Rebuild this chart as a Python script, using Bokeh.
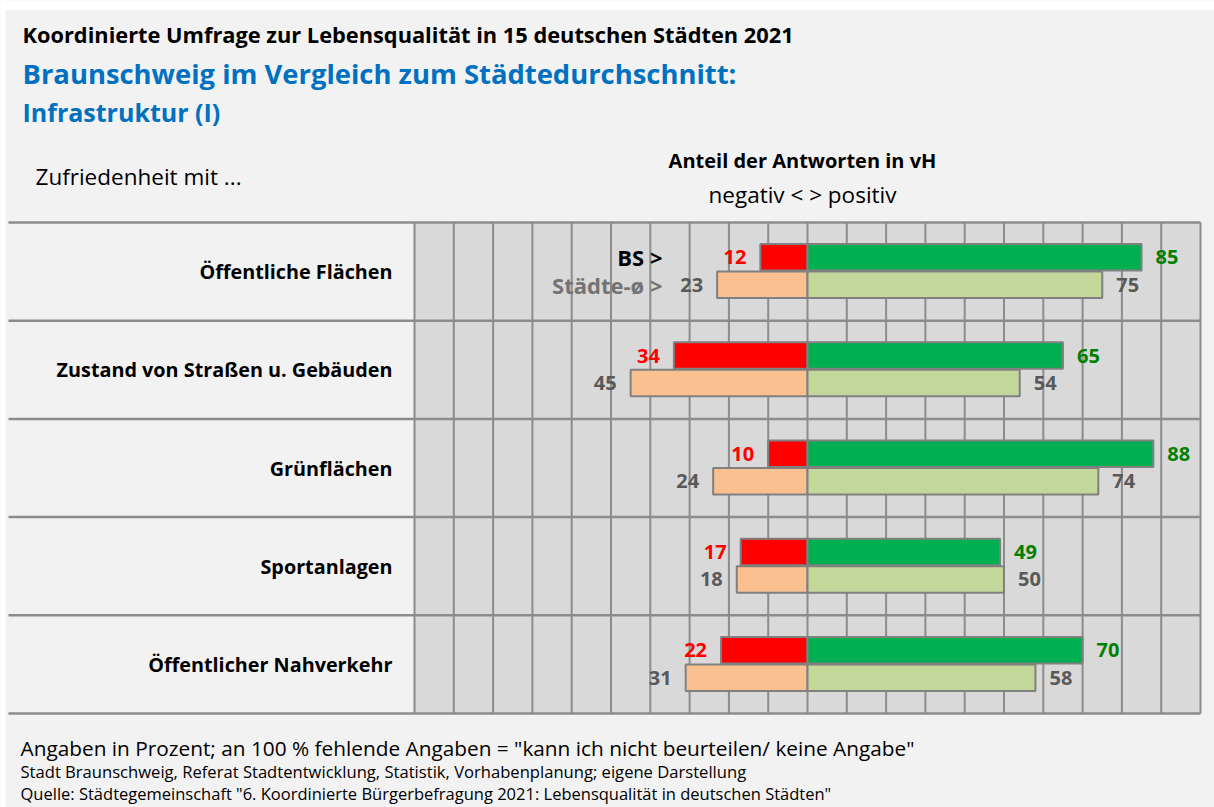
from bokeh.plotting import figure
from bokeh.models import Range1d
from bokeh.core.properties import value
from bokeh.embed import file_html
from bokeh.resources import INLINE

# ---------------- data ----------------
categories = ["Öffentliche Flächen", "Zustand von Straßen u. Gebäuden",
              "Grünflächen", "Sportanlagen", "Öffentlicher Nahverkehr"]
bs_negative = [12, 34, 10, 17, 22]
bs_positive = [85, 65, 88, 49, 70]
avg_negative = [23, 45, 24, 18, 31]
avg_positive = [75, 54, 74, 50, 58]
grid_ticks = list(range(-100, 101, 10))

title1 = "Koordinierte Umfrage zur Lebensqualität in 15 deutschen Städten 2021"
title2 = "Braunschweig im Vergleich zum Städtedurchschnitt:"
title3 = "Infrastruktur (I)"
left_head = "Zufriedenheit mit ..."
axis_head1 = "Anteil der Antworten in vH"
axis_head2 = "negativ < > positiv"
foot1 = 'Angaben in Prozent; an 100 % fehlende Angaben = "kann ich nicht beurteilen/ keine Angabe"'
foot2 = "Stadt Braunschweig, Referat Stadtentwicklung, Statistik, Vorhabenplanung; eigene Darstellung"
foot3 = 'Quelle: Städtegemeinschaft "6. Koordinierte Bürgerbefragung 2021: Lebensqualität in deutschen Städten"'

# ---------------- layout (page pixels; figure placed at page origin) ----------------
OX, OY = 0, 0
W, H = 1214, 807
CH_L, CH_R, CH_T, CH_B = 414, 1200, 222, 713   # chart area on page
xs = (CH_R - CH_L) / 200.0
x0 = -100 - (CH_L - OX) / xs
x1 = 100 + (OX + W - CH_R) / xs
rowpx = (CH_B - CH_T) / 5.0
y_top = -(CH_T - OY) / rowpx
y_bot = 5 + (OY + H - CH_B) / rowpx

def px(x):
    return x0 + (x - OX) / xs

def py(y):
    return y_top + (y - OY) / rowpx

FONT = value("Open Sans")
BG = "#f2f2f2"
GRID = "#8c8c8c"

p = figure(width=W, height=H, x_range=Range1d(x0, x1), y_range=Range1d(y_bot, y_top),
           x_axis_type=None, y_axis_type=None, toolbar_location=None,
           output_backend="svg", min_border=0, outline_line_color=None,
           background_fill_color=BG, border_fill_color=BG)
p.xgrid.visible = False
p.ygrid.visible = False

# white page edge (top and left) as in the reference
p.quad(left=[px(0)], right=[x1], top=[py(0)], bottom=[py(9)], fill_color="white", line_color=None)
p.quad(left=[px(0)], right=[px(5)], top=[py(0)], bottom=[y_bot], fill_color="white", line_color=None)

# chart area background
p.quad(left=[-100], right=[100], top=[0], bottom=[5], fill_color="#d9d9d9", line_color=None)
# vertical grid
p.segment(x0=grid_ticks, y0=[0] * len(grid_ticks), x1=grid_ticks, y1=[5] * len(grid_ticks),
          line_color=GRID, line_width=2)
# row separators
n = len(categories)
p.segment(x0=[px(8)] * (n + 1), y0=list(range(n + 1)), x1=[100] * (n + 1), y1=list(range(n + 1)),
          line_color=GRID, line_width=2.5)

rows = list(range(n))
y_bs = [r + 0.355 for r in rows]
y_avg = [r + 0.635 for r in rows]
bh = 0.27

p.hbar(y=y_bs, left=[-v for v in bs_negative], right=[0] * n, height=bh,
       fill_color="#ff0000", line_color="#808080", line_width=2)
p.hbar(y=y_bs, left=[0] * n, right=bs_positive, height=bh,
       fill_color="#00b050", line_color="#808080", line_width=2)
p.hbar(y=y_avg, left=[-v for v in avg_negative], right=[0] * n, height=bh,
       fill_color="#fac090", line_color="#808080", line_width=2)
p.hbar(y=y_avg, left=[0] * n, right=avg_positive, height=bh,
       fill_color="#c4d79b", line_color="#808080", line_width=2)

off = 14 / xs
lab = dict(text_font=FONT, text_font_size="20px", text_font_style="bold", text_baseline="middle")
p.text(x=[-v - off for v in bs_negative], y=y_bs, text=[str(v) for v in bs_negative],
       text_color="#ff0000", text_align="right", **lab)
p.text(x=[v + off for v in bs_positive], y=y_bs, text=[str(v) for v in bs_positive],
       text_color="#008000", text_align="left", **lab)
p.text(x=[-v - off for v in avg_negative], y=y_avg, text=[str(v) for v in avg_negative],
       text_color="#595959", text_align="right", **lab)
p.text(x=[v + off for v in avg_positive], y=y_avg, text=[str(v) for v in avg_positive],
       text_color="#595959", text_align="left", **lab)

# series markers in first row
p.text(x=[px(662)], y=[y_bs[0]], text=["BS >"], text_color="black", text_align="right",
       text_font=FONT, text_font_size="22px", text_font_style="bold", text_baseline="middle")
p.text(x=[px(662)], y=[y_avg[0]], text=["Städte-ø >"], text_color="#737373", text_align="right",
       text_font=FONT, text_font_size="22px", text_font_style="bold", text_baseline="middle")

# category names
p.text(x=[px(392)] * n, y=[r + 0.5 for r in rows], text=categories, text_color="black",
       text_align="right", text_font=FONT, text_font_size="19.8px", text_font_style="bold",
       text_baseline="middle")

def put(txt, x, y, size, color="black", style="normal", align="left"):
    p.text(x=[px(x)], y=[py(y)], text=[txt], text_color=color, text_align=align,
           text_font=FONT, text_font_size=size, text_font_style=style, text_baseline="middle")

put(title1, 22, 34, "21.8px", style="bold")
put(title2, 22, 73, "27.4px", color="#0070c0", style="bold")
put(title3, 22, 111, "25px", color="#0070c0", style="bold")
put(left_head, 35, 176, "22.5px")
put(axis_head1, 802, 160, "20px", style="bold", align="center")
put(axis_head2, 802, 194, "22.5px", align="center")
put(foot1, 20, 747, "20.8px")
put(foot2, 20, 771, "16.6px")
put(foot3, 20, 793, "16.5px")

open("out.html", "w").write(file_html(p, INLINE))
